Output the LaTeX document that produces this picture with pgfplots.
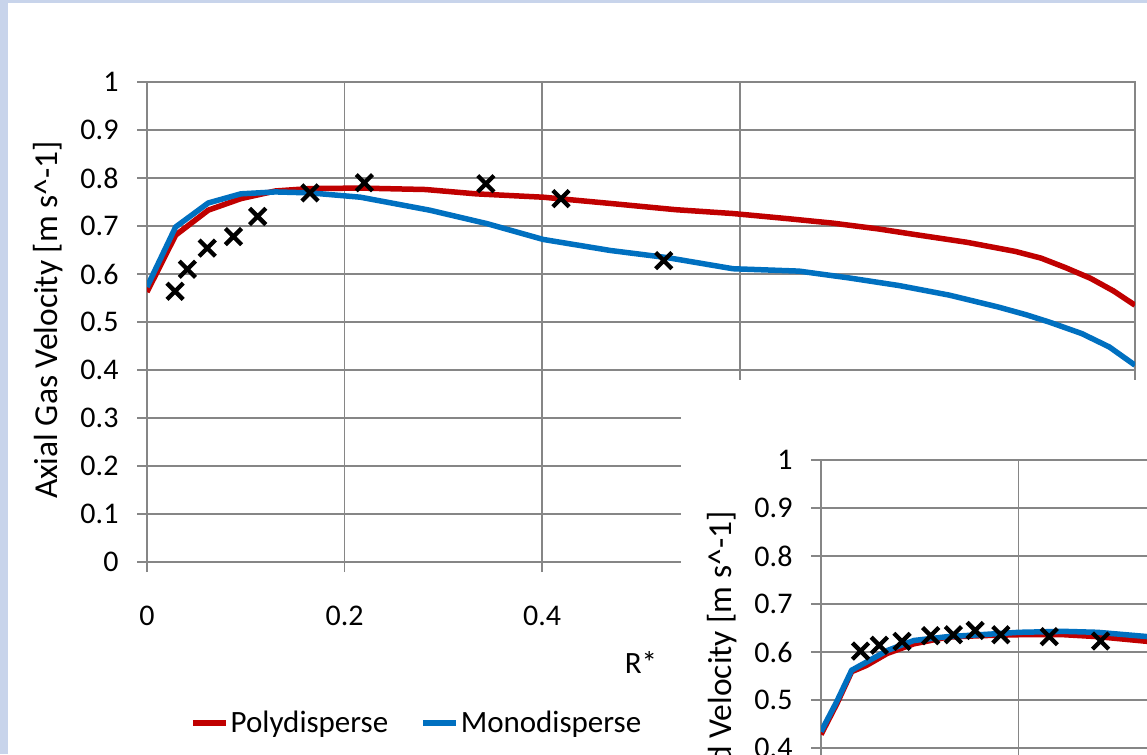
\documentclass[border=0pt]{standalone}
\usepackage{pgfplots}
\pgfplotsset{compat=1.18}
\usepackage{fontspec}
\setmainfont{Carlito}
\definecolor{gridgray}{RGB}{134,134,134}
\definecolor{polyred}{RGB}{192,0,0}
\definecolor{monoblue}{RGB}{0,112,192}
\definecolor{framebl}{RGB}{200,212,235}
\pgfplotsset{
  chartbase/.style={
    scale only axis, width=988pt, height=480pt,
    xmin=0, xmax=1, ymin=0, ymax=1,
    axis line style={gridgray, line width=1.5pt},
    grid=major, major grid style={gridgray, line width=1.5pt},
    xtick={0,0.2,0.4,0.6},
    ytick={0,0.1,0.2,0.3,0.4,0.5,0.6,0.7,0.8,0.9,1},
    tick style={gridgray, line width=1.5pt},
    tick align=outside, major tick length=10pt,
    xtick pos=bottom, ytick pos=left,
    /pgf/number format/assume math mode=true,
    /pgf/number format/fixed,
    ticklabel style={font=\fontsize{30}{35}\selectfont, text=black},
    yticklabel style={xshift=-15pt},
    xticklabel style={yshift=-30pt},
    label style={font=\fontsize{33.5}{39}\selectfont},
    ylabel style={at={(rel axis cs:-0.1002,0.504)}, anchor=center, rotate=0},
  },
  polyline/.style={polyred, line width=5.5pt, line join=round, no marks},
  monoline/.style={monoblue, line width=5.5pt, line join=round, no marks},
  expmarks/.style={only marks, mark=x, mark size=11.5pt, mark options={line width=4.3pt, black}},
}
\begin{document}
\begin{tikzpicture}
\path[use as bounding box] (0pt,0pt) rectangle (1147pt,-754pt);
\clip (0pt,0pt) rectangle (1147pt,-754pt);
\fill[white] (0pt,0pt) rectangle (1147pt,-754pt);
\fill[framebl] (0pt,0pt) rectangle (8pt,-754pt);
\fill[framebl] (0pt,0pt) rectangle (1147pt,-3pt);

\begin{axis}[chartbase,
  at={(147pt,-562pt)}, anchor=south west,
  xlabel={R*},
  xlabel style={at={(rel axis cs:0.5,-0.21)}, anchor=center, font=\fontsize{31}{36}\selectfont},
  ylabel={Axial Gas Velocity [m s\textasciicircum-1]},
  legend style={at={(rel axis cs:0.0435,-0.335)}, anchor=west, draw=none, fill=none,
    inner sep=0pt, legend columns=2, font=\fontsize{31}{36}\selectfont,
    nodes={inner xsep=2pt, inner ysep=1pt},
    /tikz/every even column/.append style={column sep=30pt}},
  legend image code/.code={\draw[#1] (0pt,0pt) -- (33pt,0pt);},
]
\addplot[polyline] coordinates {
(0,0.5625) (0.029,0.681) (0.062,0.733) (0.095,0.757) (0.130,0.773) (0.165,0.778)
(0.216,0.779) (0.282,0.776) (0.333,0.767) (0.401,0.760) (0.469,0.747) (0.535,0.734)
(0.593,0.726) (0.650,0.715) (0.694,0.706) (0.740,0.694) (0.778,0.682) (0.830,0.666)
(0.879,0.647) (0.905,0.633) (0.930,0.613) (0.955,0.591) (0.978,0.565) (1.0,0.535)
};
\addlegendentry{Polydisperse}
\addplot[monoline] coordinates {
(0,0.573) (0.029,0.698) (0.062,0.748) (0.095,0.767) (0.130,0.771) (0.165,0.769)
(0.216,0.760) (0.286,0.733) (0.344,0.705) (0.401,0.672) (0.469,0.649) (0.527,0.634)
(0.593,0.611) (0.660,0.606) (0.710,0.592) (0.761,0.576) (0.812,0.556) (0.862,0.531)
(0.890,0.515) (0.913,0.500) (0.946,0.476) (0.974,0.448) (1.0,0.410)
};
\addlegendentry{Monodisperse}
\addplot[expmarks, forget plot] coordinates {
(0.0284,0.564) (0.0409,0.610) (0.061,0.654) (0.0875,0.678) (0.112,0.720)
(0.165,0.769) (0.220,0.790) (0.343,0.788) (0.419,0.757) (0.523,0.628)
};
\end{axis}

\fill[white] (681pt,-380pt) rectangle (1147pt,-754pt);

\begin{axis}[chartbase,
  at={(821pt,-940pt)}, anchor=south west,
  xticklabels={},
  ylabel={Axial Solid Velocity [m s\textasciicircum-1]},
]
\addplot[polyline] coordinates {
(0,0.428) (0.016,0.492) (0.031,0.559) (0.046,0.572) (0.067,0.597) (0.094,0.617)
(0.128,0.631) (0.161,0.634) (0.2,0.636) (0.246,0.636) (0.280,0.632) (0.331,0.622) (0.36,0.615)
};
\addplot[monoline] coordinates {
(0,0.434) (0.016,0.497) (0.031,0.562) (0.046,0.579) (0.067,0.603) (0.094,0.624)
(0.128,0.632) (0.161,0.636) (0.2,0.641) (0.246,0.643) (0.280,0.641) (0.331,0.632) (0.36,0.626)
};
\addplot[expmarks] coordinates {
(0.040,0.602) (0.059,0.614) (0.082,0.622) (0.111,0.634) (0.134,0.636)
(0.156,0.645) (0.182,0.636) (0.231,0.632) (0.283,0.623)
};
\end{axis}
\end{tikzpicture}
\end{document}
